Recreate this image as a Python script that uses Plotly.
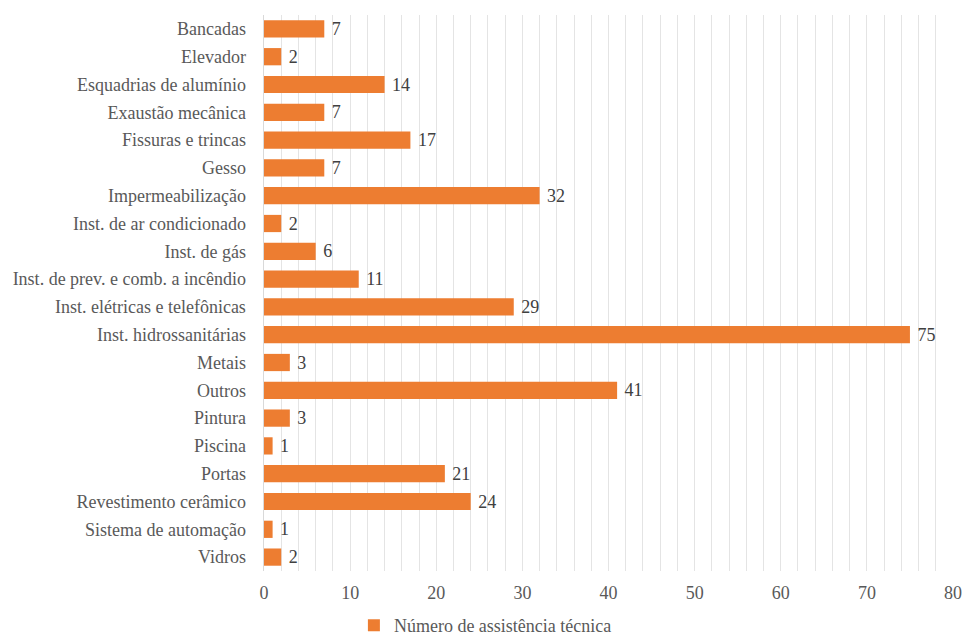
import plotly.graph_objects as go

categories = ["Bancadas", "Elevador", "Esquadrias de alumínio", "Exaustão mecânica",
              "Fissuras e trincas", "Gesso", "Impermeabilização", "Inst. de ar condicionado",
              "Inst. de gás", "Inst. de prev. e comb. a incêndio", "Inst. elétricas e telefônicas",
              "Inst. hidrossanitárias", "Metais", "Outros", "Pintura", "Piscina", "Portas",
              "Revestimento cerâmico", "Sistema de automação", "Vidros"]
values = [7, 2, 14, 7, 17, 7, 32, 2, 6, 11, 29, 75, 3, 41, 3, 1, 21, 24, 1, 2]
series_name = "Número de assistência técnica"
x_ticks = [0, 10, 20, 30, 40, 50, 60, 70, 80]

font_family = "Times New Roman, Liberation Serif, Tinos, serif"
grey = "#595959"

fig = go.Figure()
fig.add_trace(go.Bar(
    y=categories, x=values, orientation="h", name=series_name,
    marker=dict(color="#ED7D31", line=dict(width=0)),
    texttemplate=" %{x}", textposition="outside", constraintext="none",
    textfont=dict(family=font_family, size=18, color="#404040"),
    cliponaxis=False, showlegend=True,
))

fig.update_layout(
    width=965, height=635,
    margin=dict(l=264, r=12, t=15, b=64, autoexpand=False),
    paper_bgcolor="white", plot_bgcolor="white",
    bargap=0.38,
    font=dict(family=font_family, size=18, color=grey),
    showlegend=True,
    legend=dict(orientation="h", x=0.503, xanchor="center", xref="container",
                y=0.044, yanchor="top", yref="container",
                font=dict(family=font_family, size=18, color=grey),
                itemwidth=30, bgcolor="rgba(0,0,0,0)"),
    xaxis=dict(range=[0, 80], tickvals=x_ticks, showgrid=True, gridcolor="#E4E4E4", gridwidth=1,
               minor=dict(dtick=2, showgrid=True, gridcolor="#E4E4E4", gridwidth=1),
               zeroline=False, showline=False, ticks="", ticklabelstandoff=9,
               tickfont=dict(family=font_family, size=18, color=grey)),
    yaxis=dict(categoryorder="array", categoryarray=categories, autorange="reversed",
               showgrid=False, zeroline=False, showline=True, linecolor="#D9D9D9", ticks="",
               ticksuffix="   ",
               tickfont=dict(family=font_family, size=18, color=grey)),
)

fig.write_html("out.html")
